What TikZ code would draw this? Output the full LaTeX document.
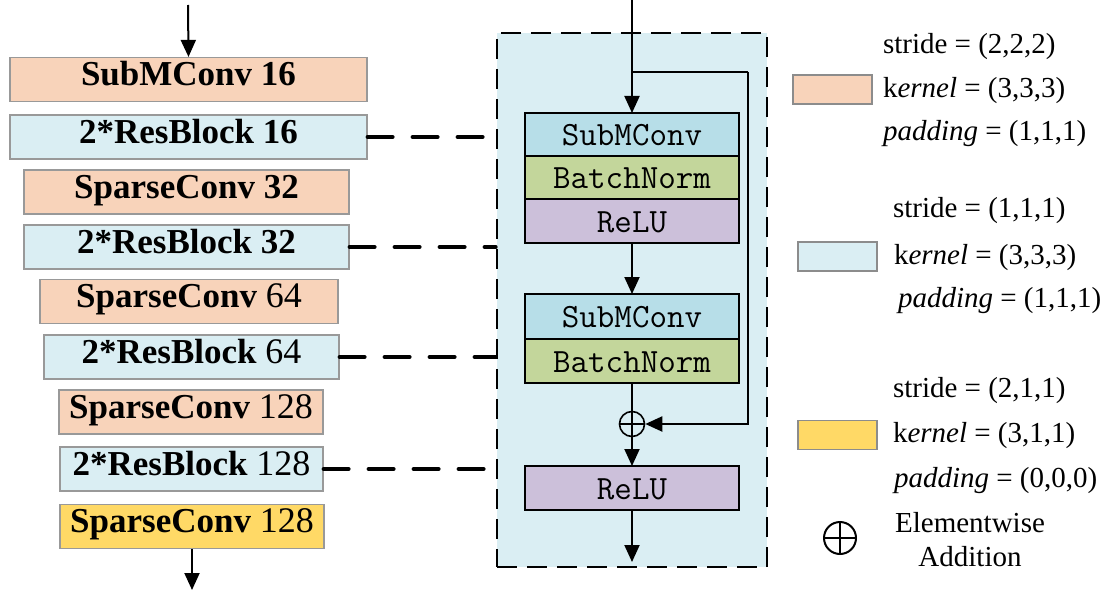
\documentclass[tikz,border=0pt]{standalone}
\usepackage{fontspec}
\setmainfont{Liberation Serif}
\usetikzlibrary{arrows.meta,positioning}

\definecolor{convorange}{HTML}{F8D3BA}
\definecolor{resblue}{HTML}{DAEEF3}
\definecolor{lastyellow}{HTML}{FFD966}
\definecolor{submblue}{HTML}{B7DEE8}
\definecolor{bngreen}{HTML}{C3D69B}
\definecolor{relupurple}{HTML}{CCC0DA}

\newcommand{\nrm}[1]{\textmd{\fontsize{36}{40}\selectfont #1}}

\begin{document}
\begin{tikzpicture}[x=1pt,y=-1pt,line width=2pt,
  flow/.style={-{Triangle[length=17pt,width=15pt]},line width=2pt},
  layer/.style={draw=black!40,line width=1.2pt,minimum height=44pt,inner sep=0pt,
    font=\fontsize{35}{40}\selectfont\bfseries,text height=23pt,text depth=11pt},
  conv/.style={layer,fill=convorange},
  res/.style={layer,fill=resblue},
  last/.style={layer,fill=lastyellow},
  blk/.style={draw,line width=2pt,outer sep=0pt,minimum width=214pt,minimum height=43pt,
    inner sep=0pt,font=\fontsize{34}{36}\ttfamily,text height=22pt,text depth=0pt},
  link/.style={dash pattern=on 25pt off 20pt,line cap=round,line width=4pt},
  addnode/.style={circle,draw,line width=1.6pt,minimum size=#1,inner sep=0pt,
    path picture={\draw[line width=1.6pt]
      (path picture bounding box.north) -- (path picture bounding box.south)
      (path picture bounding box.west) -- (path picture bounding box.east);}},
  legtxt/.style={anchor=west,inner sep=0pt,font=\fontsize{29}{34}\selectfont,
    text height=21pt,text depth=7pt},
  legbox/.style={draw=black!45,line width=1.2pt,minimum width=79pt,minimum height=29pt}]

\useasboundingbox (0,0) rectangle (1117,594);

% encoder column
\node[conv,minimum width=357pt] (l1) at (188.5,79.5) {SubMConv 16};
\node[res,minimum width=357pt]  (l2) at (188.5,137)  {2*ResBlock 16};
\node[conv,minimum width=325pt] (l3) at (186.5,192)  {SparseConv 32};
\node[res,minimum width=325pt]  (l4) at (186.5,247)  {2*ResBlock 32};
\node[conv,minimum width=298pt] (l5) at (189,301.5)  {SparseConv \nrm{64}};
\node[res,minimum width=295pt]  (l6) at (191.5,357)  {2*ResBlock \nrm{64}};
\node[conv,minimum width=264pt] (l7) at (191,412)    {SparseConv \nrm{128}};
\node[res,minimum width=263pt]  (l8) at (191.5,469)  {2*ResBlock \nrm{128}};
\node[last,minimum width=264pt] (l9) at (192,526.5)  {SparseConv \nrm{128}};

\coordinate (lin)  at (188,5);
\coordinate (lout) at (192,590);
\draw[flow] (lin) -- (l1.north);
\draw[flow] (l9.south) -- (lout);

% residual block
\node[draw,dash pattern=on 20pt off 10pt,line width=2.6pt,fill=resblue,
  minimum width=270pt,minimum height=534pt] (frame) at (632,300) {};

\node[blk,fill=submblue] (sc1) at (632,134.5) {SubMConv};
\node[blk,fill=bngreen,below=0pt of sc1] (bn1) {BatchNorm};
\node[blk,fill=relupurple,below=0pt of bn1,minimum height=44pt] (re1) {ReLU};

\node[blk,fill=submblue,minimum height=45pt] (sc2) at (632,316.5) {SubMConv};
\node[blk,fill=bngreen,below=0pt of sc2,minimum height=44pt] (bn2) {BatchNorm};

\node[addnode=25pt] (add) at (632,424) {};
\node[blk,fill=relupurple,minimum height=44pt] (re2) at (632,488) {ReLU};

\coordinate (rin)  at (632,0);
\coordinate (sk)   at (632,72);
\coordinate (skr)  at (748,72);
\coordinate (rout) at (632,562);

\draw[flow] (rin) -- (sc1.north);
\draw (sk) -- (skr);
\draw[flow] (skr) |- (add.east);
\draw[flow] (re1.south) -- (sc2.north);
\draw (bn2.south) -- (add.north);
\draw[flow] (add.south) -- (re2.north);
\draw[flow] (re2.south) -- (rout);

% links to the block
\draw[link] (l2.east) -- (l2.east -| frame.west);
\draw[link] (l4.east) -- (l4.east -| frame.west);
\draw[link] (l6.east) -- (l6.east -| frame.west);
\draw[link] (l8.east) -- (l8.east -| frame.west);

% legend
\node[legbox,fill=convorange] (k1) at (832.5,89.5) {};
\node[legtxt] (s1) at (882,47)  {stride = (2,2,2)};
\node[legtxt] (e1) at (882,90)  {k\textit{ernel} = (3,3,3)};
\node[legtxt] (p1) at (882,133) {\textit{padding} = (1,1,1)};

\node[legbox,fill=resblue] (k2) at (837.5,256.5) {};
\node[legtxt] (s2) at (892,210) {stride = (1,1,1)};
\node[legtxt] (e2) at (893,257) {k\textit{ernel} = (3,3,3)};
\node[legtxt] (p2) at (897,300) {\textit{padding} = (1,1,1)};

\node[legbox,fill=lastyellow] (k3) at (837.5,435) {};
\node[legtxt] (s3) at (892,390) {stride = (2,1,1)};
\node[legtxt] (e3) at (892,435) {k\textit{ernel} = (3,1,1)};
\node[legtxt] (p3) at (893,480) {\textit{padding} = (0,0,0)};

\node[addnode=32pt,line width=2pt] (addkey) at (840,538) {};
\node[align=center,inner sep=0pt,font=\fontsize{29}{34}\selectfont] (addtxt) at (970,540)
  {Elementwise\\Addition};

\end{tikzpicture}
\end{document}
